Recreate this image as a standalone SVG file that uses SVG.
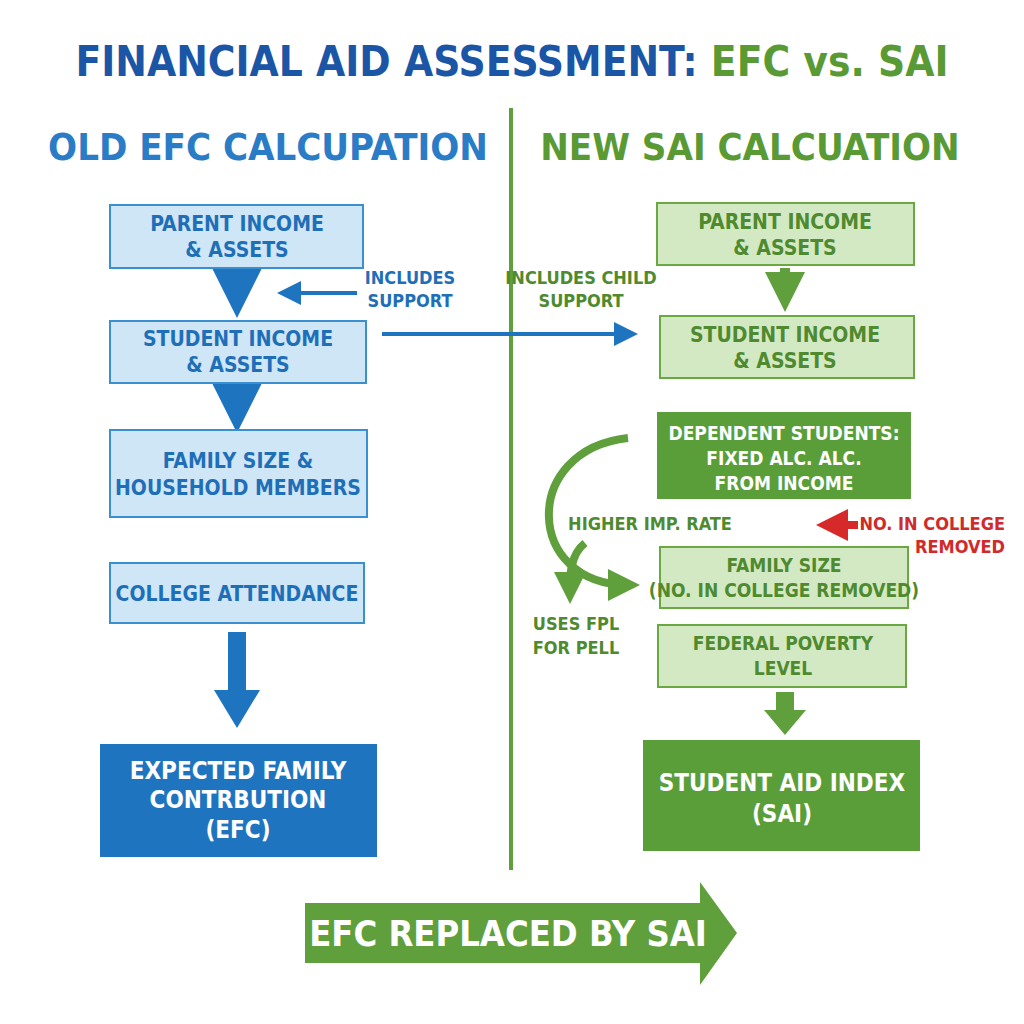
<svg xmlns="http://www.w3.org/2000/svg" width="1024" height="1024" viewBox="0 0 1024 1024">
<style>
text{font-family:"DejaVu Sans Condensed","DejaVu Sans",sans-serif;font-weight:bold;text-anchor:middle}
.b{fill:#1f6fb8}.g{fill:#4f8f2f}
.lb{fill:#cfe6f7;stroke:#3a8fd0;stroke-width:2}
.lg{fill:#d3e9c3;stroke:#6aa842;stroke-width:2}
.t{font-size:21px}
.bt{fill:#1f6fb8}.gt{fill:#4f8a2f}
.w{fill:#fff}
</style>
<defs>
<marker id="ab" markerWidth="6" markerHeight="6" refX="4" refY="3" orient="auto" markerUnits="strokeWidth"><path d="M0,0L6,3L0,6z" fill="#1f74c0"/></marker>
<marker id="ag" markerWidth="4" markerHeight="4" refX="2.5" refY="2" orient="auto" markerUnits="strokeWidth"><path d="M0,0L4,2L0,4z" fill="#5f9f3c"/></marker>
<marker id="ar" markerWidth="4" markerHeight="4" refX="2.5" refY="2" orient="auto" markerUnits="strokeWidth"><path d="M0,0L4,2L0,4z" fill="#d62a2a"/></marker>
</defs>
<rect width="1024" height="1024" fill="#fff"/>
<text x="512" y="76" style="font-size:42px"><tspan fill="#1a55a6">FINANCIAL AID ASSESSMENT: </tspan><tspan fill="#5a9a35">EFC vs. SAI</tspan></text>
<line x1="511" y1="108" x2="511" y2="870" stroke="#5f9f3c" stroke-width="4"/>
<text x="268" y="160" style="font-size:38px" fill="#2a7cc6">OLD EFC CALCUPATION</text>
<text x="750" y="160" style="font-size:38px" fill="#5a9a35">NEW SAI CALCUATION</text>

<g id="connectors">
<path d="M237,272V298" stroke="#1f74c0" stroke-width="10" marker-end="url(#ab)" fill="none"/>
<path d="M237,388V413" stroke="#1f74c0" stroke-width="10" marker-end="url(#ab)" fill="none"/>
<path d="M237,632H237" fill="none"/>
<polygon points="228,632 246,632 246,690 260,690 237,728 214,690 228,690" fill="#1f74c0"/>
<path d="M357,293H285" stroke="#1f74c0" stroke-width="4" marker-end="url(#ab)" fill="none"/>
<path d="M382,334H630" stroke="#1f74c0" stroke-width="4" marker-end="url(#ab)" fill="none"/>
<path d="M785,268V297" stroke="#5f9f3c" stroke-width="10" marker-end="url(#ag)" fill="none"/>
<polygon points="776,692 794,692 794,710 806,710 785,735 764,710 776,710" fill="#5f9f3c"/>
<path d="M628,438C520,450,525,585,628,585" stroke="#5f9f3c" stroke-width="8" marker-end="url(#ag)" fill="none"/>
<path d="M585,543C570,555,570,575,570,592" stroke="#5f9f3c" stroke-width="8" marker-end="url(#ag)" fill="none"/>
<path d="M858,525H828" stroke="#d62a2a" stroke-width="8" marker-end="url(#ar)" fill="none"/>
</g>

<text x="410" y="284" class="t bt" style="font-size:18px">INCLUDES</text>
<text x="410" y="307" class="t bt" style="font-size:18px">SUPPORT</text>
<text x="581" y="284" class="t gt" style="font-size:18px">INCLUDES CHILD</text>
<text x="581" y="307" class="t gt" style="font-size:18px">SUPPORT</text>
<text x="650" y="530" class="t gt" style="font-size:18px">HIGHER IMP. RATE</text>
<text x="576" y="630" class="t gt" style="font-size:18px">USES FPL</text>
<text x="576" y="654" class="t gt" style="font-size:18px">FOR PELL</text>
<text x="1005" y="530" style="font-size:18px;text-anchor:end" fill="#d02a2a">NO. IN COLLEGE</text>
<text x="1005" y="553" style="font-size:18px;text-anchor:end" fill="#d02a2a">REMOVED</text>

<g id="n1"><rect x="110" y="205" width="253" height="63" class="lb"/><text x="237" y="231" class="t bt">PARENT INCOME</text><text x="237" y="257" class="t bt">&amp; ASSETS</text></g>
<g id="n2"><rect x="110" y="321" width="256" height="62" class="lb"/><text x="238" y="346" class="t bt">STUDENT INCOME</text><text x="238" y="372" class="t bt">&amp; ASSETS</text></g>
<g id="n3"><rect x="110" y="430" width="257" height="87" class="lb"/><text x="238" y="468" class="t bt">FAMILY SIZE &amp;</text><text x="238" y="495" class="t bt">HOUSEHOLD MEMBERS</text></g>
<g id="n4"><rect x="110" y="563" width="254" height="60" class="lb"/><text x="237" y="601" class="t bt">COLLEGE ATTENDANCE</text></g>
<g id="n5"><rect x="100" y="744" width="277" height="113" fill="#1f74c0"/><text x="238" y="779" class="t w" style="font-size:24px">EXPECTED FAMILY</text><text x="238" y="808" class="t w" style="font-size:24px">CONTRBUTION</text><text x="238" y="838" class="t w" style="font-size:24px">(EFC)</text></g>

<g id="r1"><rect x="657" y="203" width="257" height="62" class="lg"/><text x="785" y="229" class="t gt">PARENT INCOME</text><text x="785" y="255" class="t gt">&amp; ASSETS</text></g>
<g id="r2"><rect x="660" y="316" width="254" height="62" class="lg"/><text x="785" y="342" class="t gt">STUDENT INCOME</text><text x="785" y="368" class="t gt">&amp; ASSETS</text></g>
<g id="r3"><rect x="657" y="412" width="254" height="87" fill="#5a9e3a"/><text x="784" y="440" class="w" style="font-size:19px">DEPENDENT STUDENTS:</text><text x="784" y="465" class="w" style="font-size:19px">FIXED ALC. ALC.</text><text x="784" y="490" class="w" style="font-size:19px">FROM INCOME</text></g>
<g id="r4"><rect x="660" y="547" width="248" height="61" class="lg"/><text x="784" y="572" class="gt" style="font-size:19px">FAMILY SIZE</text><text x="784" y="597" class="gt" style="font-size:19px">(NO. IN COLLEGE REMOVED)</text></g>
<g id="r5"><rect x="658" y="625" width="248" height="62" class="lg"/><text x="783" y="650" class="gt" style="font-size:19px">FEDERAL POVERTY</text><text x="783" y="675" class="gt" style="font-size:19px">LEVEL</text></g>
<g id="r6"><rect x="643" y="740" width="277" height="111" fill="#5a9e3a"/><text x="782" y="791" class="w" style="font-size:24px">STUDENT AID INDEX</text><text x="782" y="822" class="w" style="font-size:24px">(SAI)</text></g>

<g id="banner"><polygon points="305,903 700,903 700,882 737,933 700,985 700,963 305,963" fill="#5f9f3c"/><text x="508" y="946" class="w" style="font-size:36px">EFC REPLACED BY SAI</text></g>
</svg>
